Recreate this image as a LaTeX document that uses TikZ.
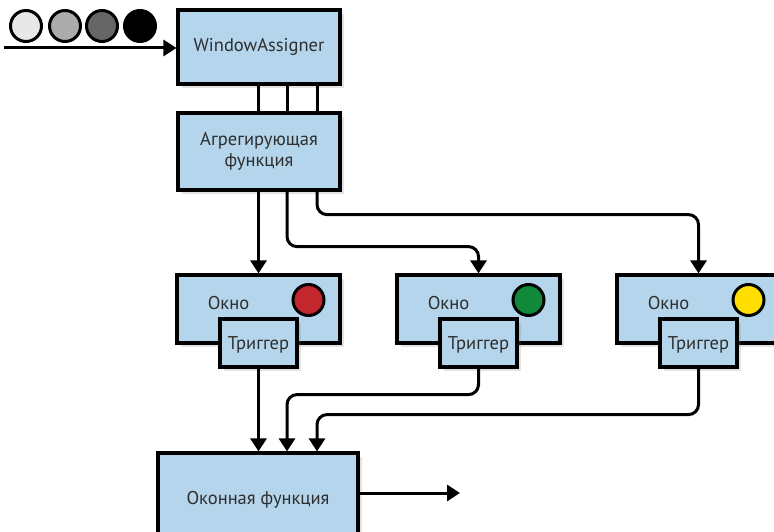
\documentclass[tikz,border=0pt]{standalone}
\usepackage{fontspec}
\setmainfont{PT Sans}
\usetikzlibrary{arrows.meta,positioning,calc,shadows}
\definecolor{boxblue}{HTML}{B4D5EB}
\definecolor{txt}{HTML}{2E2E2E}
\definecolor{lred}{HTML}{C4262E}
\definecolor{lgreen}{HTML}{10893A}
\definecolor{lyellow}{HTML}{FFDD00}
\tikzset{
  blk/.style={draw, line width=3.2pt, fill=boxblue, align=center, text=txt,
    font=\fontsize{18.5}{21}\selectfont, inner sep=0pt,
    drop shadow={opacity=0.22, shadow xshift=4pt, shadow yshift=-4pt}},
  lbl/.style={text=txt, font=\fontsize{18.5}{21}\selectfont, inner sep=0pt},
  ln/.style={line width=3pt},
  arr/.style={ln, -{Triangle[length=13pt,width=16pt]}, rounded corners=10pt},
  lamp/.style={circle, draw, line width=3pt, minimum size=31pt, inner sep=0pt},
}
\begin{document}
\begin{tikzpicture}[x=1pt,y=1pt]
\useasboundingbox (0,0) rectangle (774,531);
% incoming events
\foreach \n/\x/\c in {1/26/black!9,2/65/black!33,3/102/black!60,4/140/black}
  \node[lamp, fill=\c] (ev\n) at (\x,505) {};
\node[blk, minimum width=162pt, minimum height=74pt] (wa) at (259,484) {WindowAssigner};
\coordinate (in) at (4,483);
\draw[arr] (in) -- (in -| wa.west);
\node[blk, minimum width=162pt, minimum height=77pt] (agg) at (259,379.5) {Агрегирующая\\функция};
\foreach \d in {-1,28,58}
  \draw[ln] ($(wa.south)+(\d,0)$) -- ($(agg.north)+(\d,0)$);
% windows with their triggers
\foreach \i/\x/\c in {1/258.5/lred,2/478.5/lgreen,3/698.5/lyellow} {
  \node[blk, minimum width=163pt, minimum height=68pt] (w\i) at (\x,222) {};
  \node[lbl] (wl\i) at ($(w\i.center)+(-30,6)$) {Окно};
  \node[lamp, fill=\c] (lp\i) at ($(w\i.center)+(50,9)$) {};
  \node[blk, minimum width=77pt, minimum height=48pt, text depth=0pt] (t\i) at (\x,188) {Триггер};
}
\node[blk, minimum width=200pt, minimum height=90pt, text depth=0pt] (out) at (258,33) {Оконная функция};
\draw[arr] (agg.south -| w1.north) -- (w1.north);
\draw[arr] ($(agg.south)+(28,0)$) -- ++(0,-55) -| (w2.north);
\draw[arr] ($(agg.south)+(58,0)$) -- ++(0,-23) -| (w3.north);
\draw[arr] (t1.south) -- (out.north -| t1.south);
\draw[arr] (t2.south) -- ++(0,-26) -| ($(out.north)+(29,0)$);
\draw[arr] (t3.south) -- ++(0,-46) -| ($(out.north)+(59,0)$);
\coordinate (res) at (460,38);
\draw[arr] (res -| out.east) -- (res);
\end{tikzpicture}
\end{document}
